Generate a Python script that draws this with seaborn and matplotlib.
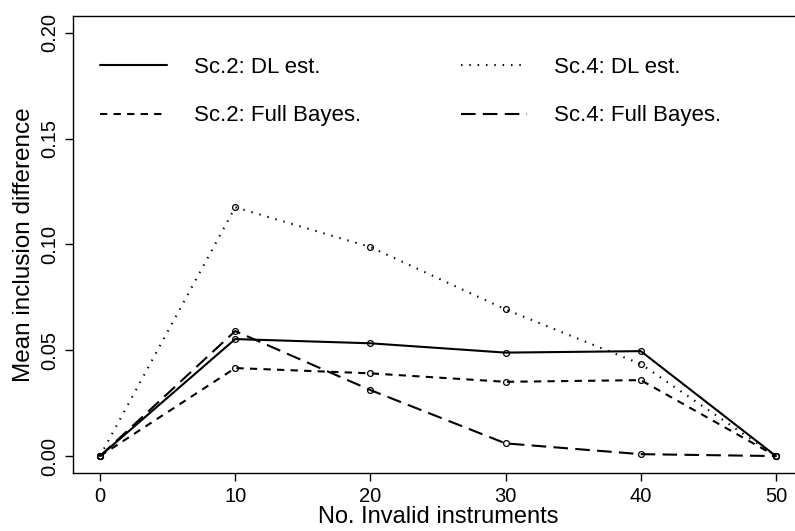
import matplotlib
matplotlib.use("Agg")
import matplotlib.pyplot as plt
from matplotlib.lines import Line2D
import pandas as pd
import seaborn as sns

# number of invalid instruments
n_invalid = [0, 10, 20, 30, 40, 50]

# mean inclusion difference
sc2_dl = [0.0, 0.0553, 0.0533, 0.0489, 0.0496, 0.0]
sc2_bayes = [0.0, 0.0416, 0.0391, 0.0351, 0.0359, 0.0]
sc4_dl = [0.0, 0.1176, 0.0988, 0.0693, 0.0435, 0.0]
sc4_bayes = [0.0, 0.0591, 0.0312, 0.0060, 0.0009, 0.0]

labels = ["Sc.2: DL est.", "Sc.2: Full Bayes.", "Sc.4: DL est.", "Sc.4: Full Bayes."]

sns.set_style("ticks", {"text.color": "black", "axes.labelcolor": "black",
                        "xtick.color": "black", "ytick.color": "black",
                        "axes.edgecolor": "black"})
plt.rcParams["font.family"] = ["Liberation Sans", "DejaVu Sans"]

df = pd.DataFrame({
    "x": n_invalid * 4,
    "y": sc2_dl + sc2_bayes + sc4_dl + sc4_bayes,
    "series": [lab for lab in labels for _ in n_invalid],
})

styles = {
    "Sc.2: DL est.": "-",
    "Sc.2: Full Bayes.": (0, (3.5, 3)),
    "Sc.4: DL est.": (0, (0.7, 3.3)),
    "Sc.4: Full Bayes.": (0, (7, 3.5)),
}

fig = plt.figure(figsize=(7.95, 5.31), dpi=100)
ax = fig.add_axes([73 / 795, 1 - 473 / 531, (803 - 73) / 795, (473 - 16) / 531])

handles = []
for lab in labels:
    sub = df[df.series == lab]
    sns.lineplot(x="x", y="y", data=sub, ax=ax, color="black", lw=1.5,
                 linestyle=styles[lab], marker="o", markersize=4.2,
                 markerfacecolor="none", markeredgecolor="black",
                 markeredgewidth=0.9)
    handles.append(Line2D([], [], color="black", lw=1.5, linestyle=styles[lab]))

ax.set_xlim(-2, 52)
ax.set_ylim(-0.008, 0.208)
ax.set_xticks(n_invalid)
ax.set_yticks([0.0, 0.05, 0.10, 0.15, 0.20])
ax.set_yticklabels(["0.00", "0.05", "0.10", "0.15", "0.20"], rotation=90, va="center")
ax.tick_params(length=6, width=1, color="black", labelcolor="black", labelsize=14.5)
ax.tick_params(axis="x", pad=4)
ax.tick_params(axis="y", pad=4)
for sp in ax.spines.values():
    sp.set_visible(True)
    sp.set_color("black")
    sp.set_linewidth(1)

ax.set_xlabel("No. Invalid instruments", fontsize=17, labelpad=0, color="black")
ax.set_ylabel("Mean inclusion difference", fontsize=17.5, labelpad=4, color="black")

ax.legend(handles, labels, ncol=2, frameon=False, fontsize=16,
          loc="upper left", bbox_to_anchor=(0.01, 0.955),
          handlelength=3.0, handletextpad=1.2, columnspacing=4.5,
          labelspacing=1.25, labelcolor="black")

fig.savefig("out.png", dpi=100)
